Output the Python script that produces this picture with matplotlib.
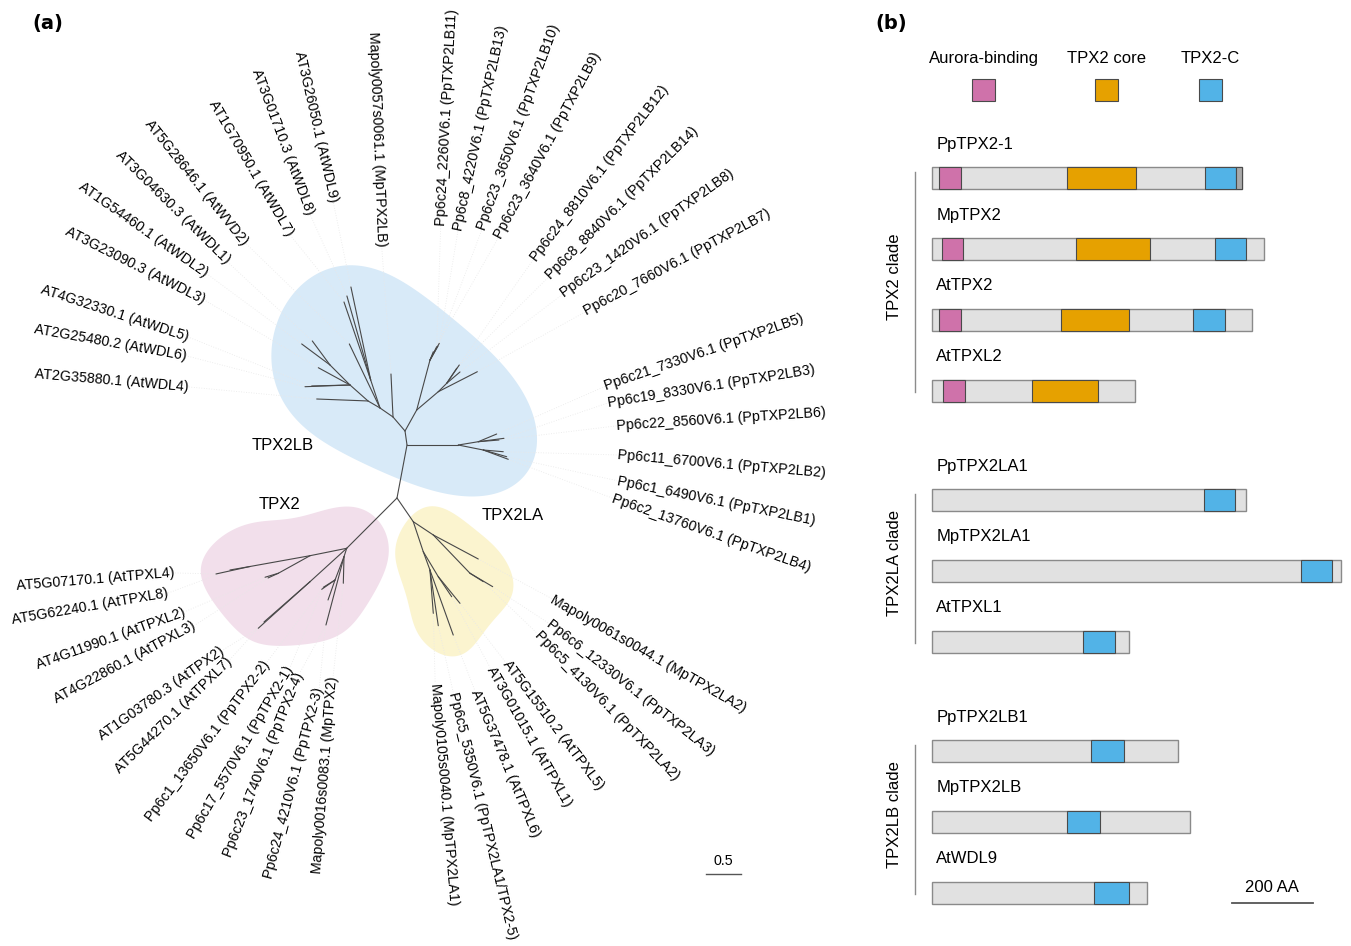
import numpy as np
import matplotlib.pyplot as plt
from matplotlib.patches import Rectangle

plt.rcParams['font.family'] = ['Liberation Sans', 'DejaVu Sans']

# ---------------------------------------------------------------------------
# (a) unrooted tree: (node, parent, branch length, branch direction in degrees)
tree_edges = [
    ('B', 'R', 0.777, 79.3),
    ('A', 'B', 0.204, 98.1),
    ('V', 'A', 0.266, 130.6),
    ('MpTPX2LB', 'V', 0.620, 92.7),
    ('U1', 'V', 0.228, 145.3),
    ('U2', 'U1', 0.425, 108.4),
    ('AtWDL9', 'U2', 1.370, 102.0),
    ('AtWDL8', 'U2', 1.258, 105.8),
    ('AtWDL7', 'U2', 1.188, 108.9),
    ('AtWVD2', 'U1', 1.023, 115.6),
    ('L1', 'U1', 0.200, 149.7),
    ('AtWDL4', 'L1', 0.740, 177.8),
    ('L2', 'L1', 0.347, 138.4),
    ('AtWDL6', 'L2', 0.649, 182.2),
    ('AtWDL5', 'L2', 0.552, 181.5),
    ('AtWDL3', 'L2', 0.520, 151.4),
    ('L3', 'L2', 0.408, 135.0),
    ('AtWDL2', 'L3', 0.508, 143.4),
    ('AtWDL1', 'L3', 0.430, 126.4),
    ('R1', 'A', 0.346, 60.9),
    ('R2', 'R1', 0.745, 75.1),
    ('LB11', 'R2', 0.215, 63.3),
    ('LB13', 'R2', 0.275, 60.9),
    ('LB10', 'R2', 0.232, 60.3),
    ('LB9', 'R2', 0.129, 68.3),
    ('R3', 'R1', 0.408, 40.3),
    ('LB7', 'R3', 0.632, 27.1),
    ('R4', 'R3', 0.171, 45.0),
    ('LB12', 'R4', 0.320, 55.5),
    ('LB14', 'R4', 0.260, 56.3),
    ('LB8', 'R4', 0.252, 40.4),
    ('H', 'B', 0.739, 0.0),
    ('H1', 'H', 0.292, 9.4),
    ('LB5', 'H1', 0.287, 22.7),
    ('LB3', 'H1', 0.373, 7.5),
    ('LB6', 'H1', 0.299, 4.7),
    ('H2', 'H', 0.367, -11.3),
    ('LB2', 'H2', 0.289, -4.9),
    ('LB1', 'H2', 0.351, -16.0),
    ('LB4', 'H2', 0.384, -20.4),
    ('P', 'R', 1.025, 225.0),
    ('P1', 'P', 0.539, 191.4),
    ('P2', 'P1', 0.879, 190.2),
    ('AtTPXL4', 'P2', 0.502, 192.4),
    ('AtTPXL8', 'P2', 0.293, 189.9),
    ('P3', 'P1', 0.522, 209.0),
    ('AtTPXL2', 'P3', 0.200, 196.7),
    ('AtTPXL3', 'P3', 0.163, 204.5),
    ('P4', 'P', 0.715, 222.3),
    ('AtTPX2', 'P4', 1.003, 222.0),
    ('AtTPXL7', 'P4', 0.881, 221.2),
    ('P5', 'P', 0.127, 252.2),
    ('PpTPX2-4', 'P5', 1.018, 255.2),
    ('MpTPX2', 'P5', 0.383, 268.5),
    ('P6', 'P5', 0.360, 248.9),
    ('PpTPX2-2', 'P6', 0.234, 215.0),
    ('PpTPX2-1', 'P6', 0.199, 212.0),
    ('PpTPX2-3', 'P6', 0.305, 250.7),
    ('Y', 'R', 0.414, -55.5),
    ('Y1', 'Y', 0.346, -33.6),
    ('MpTPX2LA2', 'Y1', 0.735, -28.1),
    ('Y2', 'Y1', 0.764, -46.2),
    ('LA3', 'Y2', 0.380, -30.6),
    ('LA2', 'Y2', 0.227, -32.3),
    ('Y3', 'Y', 0.456, -71.6),
    ('Y5', 'Y3', 0.420, -59.0),
    ('AtTPXL5', 'Y5', 0.495, -50.8),
    ('AtTPXL1', 'Y5', 0.347, -56.2),
    ('Y4', 'Y3', 0.281, -69.9),
    ('AtTPXL6', 'Y4', 0.995, -70.3),
    ('PpLA1', 'Y4', 0.811, -81.5),
    ('MpTPX2LA1', 'Y4', 0.626, -85.6),
]

tip_labels = {
    'AtWDL4': 'AT2G35880.1 (AtWDL4)',
    'AtWDL6': 'AT2G25480.2 (AtWDL6)',
    'AtWDL5': 'AT4G32330.1 (AtWDL5)',
    'AtWDL3': 'AT3G23090.3 (AtWDL3)',
    'AtWDL2': 'AT1G54460.1 (AtWDL2)',
    'AtWDL1': 'AT3G04630.3 (AtWDL1)',
    'AtWVD2': 'AT5G28646.1 (AtWVD2)',
    'AtWDL7': 'AT1G70950.1 (AtWDL7)',
    'AtWDL8': 'AT3G01710.3 (AtWDL8)',
    'AtWDL9': 'AT3G26050.1 (AtWDL9)',
    'MpTPX2LB': 'Mapoly0057s0061.1 (MpTPX2LB)',
    'LB11': 'Pp6c24_2260V6.1 (PpTXP2LB11)',
    'LB13': 'Pp6c8_4220V6.1 (PpTXP2LB13)',
    'LB10': 'Pp6c23_3650V6.1 (PpTXP2LB10)',
    'LB9': 'Pp6c23_3640V6.1 (PpTXP2LB9)',
    'LB12': 'Pp6c24_8810V6.1 (PpTXP2LB12)',
    'LB14': 'Pp6c8_8840V6.1 (PpTXP2LB14)',
    'LB8': 'Pp6c23_1420V6.1 (PpTXP2LB8)',
    'LB7': 'Pp6c20_7660V6.1 (PpTXP2LB7)',
    'LB5': 'Pp6c21_7330V6.1 (PpTXP2LB5)',
    'LB3': 'Pp6c19_8330V6.1 (PpTXP2LB3)',
    'LB6': 'Pp6c22_8560V6.1 (PpTXP2LB6)',
    'LB2': 'Pp6c11_6700V6.1 (PpTXP2LB2)',
    'LB1': 'Pp6c1_6490V6.1 (PpTXP2LB1)',
    'LB4': 'Pp6c2_13760V6.1 (PpTXP2LB4)',
    'AtTPXL4': 'AT5G07170.1 (AtTPXL4)',
    'AtTPXL8': 'AT5G62240.1 (AtTPXL8)',
    'AtTPXL2': 'AT4G11990.1 (AtTPXL2)',
    'AtTPXL3': 'AT4G22860.1 (AtTPXL3)',
    'AtTPX2': 'AT1G03780.3 (AtTPX2)',
    'AtTPXL7': 'AT5G44270.1 (AtTPXL7)',
    'PpTPX2-2': 'Pp6c1_13650V6.1 (PpTPX2-2)',
    'PpTPX2-1': 'Pp6c17_5570V6.1 (PpTPX2-1)',
    'PpTPX2-4': 'Pp6c23_1740V6.1 (PpTPX2-4)',
    'PpTPX2-3': 'Pp6c24_4210V6.1 (PpTPX2-3)',
    'MpTPX2': 'Mapoly0016s0083.1 (MpTPX2)',
    'MpTPX2LA2': 'Mapoly0061s0044.1 (MpTPX2LA2)',
    'LA3': 'Pp6c6_12330V6.1 (PpTXP2LA3)',
    'LA2': 'Pp6c5_4130V6.1 (PpTXP2LA2)',
    'AtTPXL5': 'AT5G15510.2 (AtTPXL5)',
    'AtTPXL1': 'AT3G01015.1 (AtTPXL1)',
    'AtTPXL6': 'AT5G37478.1 (AtTPXL6)',
    'PpLA1': 'Pp6c5_5350V6.1 (PpTPX2LA1/TPX2-5)',
    'MpTPX2LA1': 'Mapoly0105s0040.1 (MpTPX2LA1)',
}

# tip label anchors (tree units, root at origin) and text rotation
label_layout = {
    'AtWDL4': (-3.00, 1.60, -4.9),
    'AtWDL6': (-3.04, 2.05, -10.1),
    'AtWDL5': (-3.01, 2.32, -18.1),
    'AtWDL3': (-2.77, 2.85, -26.8),
    'AtWDL2': (-2.74, 3.23, -35.1),
    'AtWDL1': (-2.44, 3.40, -44.6),
    'AtWVD2': (-2.18, 3.67, -51.3),
    'AtWDL7': (-1.54, 3.79, -59.7),
    'AtWDL8': (-1.25, 4.08, -69.4),
    'AtWDL9': (-0.92, 4.27, -77.0),
    'MpTPX2LB': (-0.22, 3.62, -87.8),
    'LB11': (0.63, 3.92, 86.9),
    'LB13': (0.88, 3.86, 77.7),
    'LB10': (1.22, 3.86, 70.1),
    'LB9': (1.46, 3.75, 61.6),
    'LB12': (1.96, 3.43, 52.5),
    'LB14': (2.18, 3.18, 45.0),
    'LB8': (2.38, 2.93, 35.6),
    'LB7': (2.71, 2.68, 28.2),
    'LB5': (3.00, 1.61, 19.0),
    'LB3': (3.04, 1.37, 9.2),
    'LB6': (3.17, 1.04, 3.7),
    'LB2': (3.18, 0.62, -5.0),
    'LB1': (3.17, 0.25, -11.4),
    'LB4': (3.10, 0.00, -19.4),
    'AtTPXL4': (-3.20, -1.08, 4.8),
    'AtTPXL8': (-3.30, -1.37, 9.8),
    'AtTPXL2': (-3.06, -1.64, 19.8),
    'AtTPXL3': (-2.91, -1.83, 28.2),
    'AtTPX2': (-2.51, -2.19, 35.5),
    'AtTPXL7': (-2.41, -2.33, 44.6),
    'PpTPX2-2': (-1.87, -2.36, 53.0),
    'PpTPX2-1': (-1.54, -2.44, 59.8),
    'PpTPX2-4': (-1.40, -2.52, 68.5),
    'PpTPX2-3': (-1.12, -2.74, 75.0),
    'MpTPX2': (-0.92, -2.57, 85.4),
    'MpTPX2LA2': (2.23, -1.45, -29.7),
    'LA3': (2.18, -1.80, -38.4),
    'LA2': (2.02, -1.95, -46.0),
    'AtTPXL5': (1.56, -2.36, -53.0),
    'AtTPXL1': (1.34, -2.44, -60.5),
    'AtTPXL6': (1.12, -2.77, -67.2),
    'PpLA1': (0.81, -2.80, -76.4),
    'MpTPX2LA1': (0.55, -2.67, -85.2),
}

clade_names = ['TPX2LB', 'TPX2', 'TPX2LA']
clade_nodes = {'TPX2LB': ['B'], 'TPX2': ['P'], 'TPX2LA': ['Y1', 'Y3']}
clade_colors = {'TPX2LB': '#d8eaf8', 'TPX2': '#f2dfeb', 'TPX2LA': '#fbf4cf'}
# hull padding around tips / internal nodes (tree units), outward swell
# and number of harmonics kept when rounding the outline
clade_pad = {'TPX2LB': (0.33, 0.50), 'TPX2': (0.20, 0.55), 'TPX2LA': (0.30, 0.40)}
clade_swell = {'TPX2LB': 1.07, 'TPX2': 1.05, 'TPX2LA': 1.02}
clade_harmonics = {'TPX2LB': 3, 'TPX2': 5, 'TPX2LA': 5}
clade_text_pos = {'TPX2LB': (-1.64, 0.76), 'TPX2': (-1.70, -0.10), 'TPX2LA': (1.66, -0.25)}

# ---------------------------------------------------------------------------
# (b) domain architecture, amino-acid positions
proteins = ['PpTPX2-1', 'MpTPX2', 'AtTPX2', 'AtTPXL2',
            'PpTPX2LA1', 'MpTPX2LA1', 'AtTPXL1',
            'PpTPX2LB1', 'MpTPX2LB', 'AtWDL9']
protein_len = [771, 824, 795, 505, 780, 1017, 490, 612, 640, 535]
protein_clade = [0, 0, 0, 0, 1, 1, 1, 2, 2, 2]
clade_titles = ['TPX2 clade', 'TPX2LA clade', 'TPX2LB clade']
aurora_binding = [(17, 71), (23, 77), (16, 71), (26, 81), None, None, None, None, None, None]
tpx2_core = [(336, 506), (358, 542), (320, 489), (249, 411), None, None, None, None, None, None]
tpx2_c = [(678, 755), (702, 780), (649, 727), None, (675, 754), (916, 994),
          (374, 454), (396, 476), (336, 416), (402, 489)]
other_region = [(755, 771), None, None, None, None, None, None, None, None, None]

domain_names = ['Aurora-binding', 'TPX2 core', 'TPX2-C']
domain_colors = ['#cf72aa', '#e6a100', '#52b3e7']


def convex_hull(points):
    pts = sorted(set(points))

    def cross(o, a, b):
        return (a[0] - o[0]) * (b[1] - o[1]) - (a[1] - o[1]) * (b[0] - o[0])

    lower, upper = [], []
    for p in pts:
        while len(lower) >= 2 and cross(lower[-2], lower[-1], p) <= 0:
            lower.pop()
        lower.append(p)
    for p in reversed(pts):
        while len(upper) >= 2 and cross(upper[-2], upper[-1], p) <= 0:
            upper.pop()
        upper.append(p)
    return np.array(lower[:-1] + upper[:-1])


def smooth_outline(poly, swell=1.0, keep=5, n=400):
    # resample the closed outline by arc length, then keep low harmonics only
    p = np.vstack([poly, poly[:1]])
    seg = np.hypot(*np.diff(p, axis=0).T)
    s = np.concatenate([[0], np.cumsum(seg)])
    t = np.linspace(0, s[-1], n, endpoint=False)
    z = np.interp(t, s, p[:, 0]) + 1j * np.interp(t, s, p[:, 1])
    f = np.fft.fft(z)
    f[keep + 1:-keep] = 0
    z = np.fft.ifft(f)
    c = z.mean()
    z = c + (z - c) * swell
    return z.real, z.imag


W, H = 1351, 946
fig = plt.figure(figsize=(W / 100, H / 100), dpi=100)

# ---------------------------------------------------------------------------
# panel (a)
ppu = 69.4                 # pixels per substitution unit
root_px = (397, 498)
ax_a = fig.add_axes([0, 0, 860 / W, 1])
ax_a.set_xlim(-root_px[0] / ppu, (860 - root_px[0]) / ppu)
ax_a.set_ylim((root_px[1] - H) / ppu, root_px[1] / ppu)
ax_a.axis('off')

pos = {'R': (0.0, 0.0)}
children = {}
for node, parent, length, ang in tree_edges:
    x0, y0 = pos[parent]
    a = np.radians(ang)
    pos[node] = (x0 + length * np.cos(a), y0 + length * np.sin(a))
    children.setdefault(parent, []).append(node)


def subtree(n):
    out = [n]
    for c in children.get(n, []):
        out += subtree(c)
    return out


for name in clade_names:
    leaf_pad, node_pad = clade_pad[name]
    pts = []
    for top in clade_nodes[name]:
        for n in subtree(top):
            r = node_pad if n in children else leaf_pad
            cx, cy = pos[n]
            for t in np.linspace(0, 2 * np.pi, 48, endpoint=False):
                pts.append((cx + r * np.cos(t), cy + r * np.sin(t)))
    hx, hy = smooth_outline(convex_hull(pts), clade_swell[name], clade_harmonics[name])
    ax_a.fill(hx, hy, color=clade_colors[name], lw=0, zorder=0)
    tx, ty = clade_text_pos[name]
    ax_a.text(tx, ty, name, fontsize=12, ha='center', va='center', zorder=4)

for node, parent, length, ang in tree_edges:
    (x0, y0), (x1, y1) = pos[parent], pos[node]
    ax_a.plot([x0, x1], [y0, y1], color='#484848', lw=0.8,
              solid_capstyle='round', zorder=2)

for leaf, text in tip_labels.items():
    lx, ly, rot = label_layout[leaf]
    tx, ty = pos[leaf]
    ax_a.plot([tx, lx], [ty, ly], color='#e8e8e8', lw=0.6,
              linestyle=(0, (1, 2)), zorder=1)
    r = np.radians(rot)
    outward = np.cos(r) * (lx - tx) + np.sin(r) * (ly - ty) > 0
    ax_a.text(lx, ly, text, fontsize=10.3, rotation=rot, rotation_mode='anchor',
              ha='left' if outward else 'right', va='center', zorder=3)

# scale bar
sb_x, sb_y, sb_len = 4.452, -5.422, 0.5
ax_a.plot([sb_x, sb_x + sb_len], [sb_y, sb_y], color='#555555', lw=1.0)
ax_a.text(sb_x + sb_len / 2, sb_y + 0.19, f'{sb_len}', fontsize=10.3,
          ha='center', va='center')

# ---------------------------------------------------------------------------
# panel (b)
ppa = 0.402               # pixels per amino acid
bar_x0 = 932.3
row_px = 70.8
first_row_px = 178.3
group_gap = 0.545
bar_h = 0.31

ax_b = fig.add_axes([860 / W, 0, 491 / W, 1])
ax_b.set_xlim((860 - bar_x0) / ppa, (W - bar_x0) / ppa)
ax_b.set_ylim((H - first_row_px) / row_px, -first_row_px / row_px)
ax_b.axis('off')

row_y = [i + group_gap * c for i, c in enumerate(protein_clade)]

ax_b.barh(row_y, protein_len, left=0, height=bar_h, color='#e1e1e1',
          edgecolor='#8a8a8a', lw=1.0, zorder=1)
for regions, color in zip([aurora_binding, tpx2_core, tpx2_c, other_region],
                          domain_colors + ['#a9a9a9']):
    for y, reg in zip(row_y, regions):
        if reg is None:
            continue
        ax_b.barh(y, reg[1] - reg[0], left=reg[0], height=bar_h, color=color,
                  edgecolor='#4a4a4a', lw=0.8, zorder=2)
for y, name in zip(row_y, proteins):
    ax_b.text(10, y - 0.48, name, fontsize=12, ha='left', va='center')

for c, title in enumerate(clade_titles):
    ys = [y for y, k in zip(row_y, protein_clade) if k == c]
    top, bottom = ys[0] - 0.09, ys[-1] + 0.02
    ax_b.plot([-43, -43], [top, bottom], color='#8c8c8c', lw=1.0)
    ax_b.text(-93, (top + bottom) / 2 - 0.07, title, rotation=90, fontsize=12,
              ha='center', va='center')

# domain legend
legend_x = [128, 433, 691]
for x, name, color in zip(legend_x, domain_names, domain_colors):
    ax_b.text(x, -1.69, name, fontsize=12, ha='center', va='center')
    ax_b.add_patch(Rectangle((x - 28.5, -1.247 - bar_h / 2), 57, bar_h,
                             facecolor=color, edgecolor='#4a4a4a', lw=0.8))

# 200 AA scale bar
aa_bar = 200
ax_b.plot([746, 746 + aa_bar], [10.232, 10.232], color='#555555', lw=1.3)
ax_b.text(746 + aa_bar / 2, 10.02, f'{aa_bar} AA', fontsize=12, ha='center', va='center')

fig.text(32 / W, 1 - 24 / H, '(a)', fontsize=14, fontweight='bold',
         family='DejaVu Sans', ha='left', va='center')
fig.text(875 / W, 1 - 24 / H, '(b)', fontsize=14, fontweight='bold',
         family='DejaVu Sans', ha='left', va='center')

fig.savefig('out.png', dpi=100)
